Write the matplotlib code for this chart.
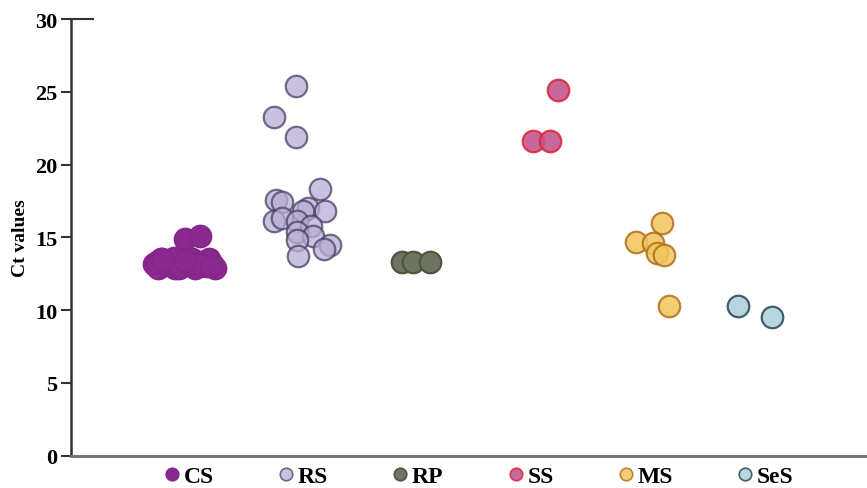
import numpy as np
import matplotlib.pyplot as plt
from matplotlib.lines import Line2D

groups = ['CS', 'RS', 'RP', 'SS', 'MS', 'SeS']

# Ct values, with horizontal offsets from the group centre
cs_vals = [13.2, 12.9, 13.5, 13.1, 13.3, 13.2, 12.9, 13.6, 13.1, 13.3, 13.2, 13.5,
           12.9, 13.2, 13.3, 13.0, 13.5, 13.2, 12.9, 13.3, 13.6, 13.1, 13.4, 12.9,
           13.2, 13.5, 13.0, 13.4, 14.9, 15.1]
cs_off = [-0.27, -0.24, -0.21, -0.18, -0.15, -0.12, -0.09, -0.06, -0.03, 0.0, 0.03,
          0.06, 0.09, 0.12, 0.15, 0.18, 0.21, 0.24, 0.26, -0.25, -0.1, 0.05, 0.2,
          -0.05, 0.1, -0.2, 0.23, 0.0, 0.0, 0.13]

rs_vals = [25.4, 23.3, 21.9, 18.3, 17.6, 17.4, 17.0, 16.8, 16.8, 16.1, 16.3, 16.1,
           15.8, 15.4, 15.1, 14.8, 14.5, 14.2, 13.7]
rs_off = [-0.03, -0.22, -0.03, 0.18, -0.2, -0.15, 0.08, 0.23, 0.03, -0.22, -0.15,
          -0.02, 0.1, -0.02, 0.12, -0.02, 0.27, 0.22, -0.01]

rp_vals = [13.3, 13.3, 13.3]
rp_off = [-0.1, 0.0, 0.15]

ss_vals = [25.1, 21.6, 21.6]
ss_off = [0.27, 0.05, 0.2]

ms_vals = [16.0, 14.7, 14.6, 13.9, 13.8, 10.3]
ms_off = [0.18, -0.05, 0.1, 0.14, 0.2, 0.24]

ses_vals = [10.3, 9.5]
ses_off = [-0.15, 0.15]

all_vals = [cs_vals, rs_vals, rp_vals, ss_vals, ms_vals, ses_vals]
all_off = [cs_off, rs_off, rp_off, ss_off, ms_off, ses_off]

fills = ['#8a2a8c', '#b7aed3', '#6f7462', '#c0588f', '#f2c55c', '#b9d6e0']
edges = ['#86268a', '#4a3f66', '#50553f', '#e0283c', '#b0701c', '#3f5f68']
alphas = [1.0, 0.75, 1.0, 0.9, 0.85, 1.0]

plt.rcParams['font.family'] = ['Liberation Serif', 'DejaVu Serif']
plt.rcParams['font.weight'] = 'bold'

fig = plt.figure(figsize=(8.67, 4.89), dpi=100)
ax = fig.add_axes([0.082, 0.066, 0.918, 0.893])

for i in range(len(groups)):
    x = i + np.array(all_off[i])
    ax.scatter(x, all_vals[i], s=240, facecolor=fills[i], edgecolor=edges[i],
               linewidth=1.6, alpha=alphas[i], zorder=3)

ax.set_xlim(-1.0, 5.98)
ax.set_ylim(0, 30)
ax.set_yticks([0, 5, 10, 15, 20, 25, 30])
ax.set_xticks([])
ax.tick_params(axis='y', labelsize=16, length=7, width=1.5, color='#333333', pad=3)
for lab in ax.get_yticklabels():
    lab.set_fontweight('bold')
ax.set_ylabel('Ct values', fontsize=14, fontweight='bold', labelpad=4)

for s in ['top', 'right']:
    ax.spines[s].set_visible(False)
ax.spines['left'].set_color('#333333')
ax.spines['left'].set_linewidth(1.8)
ax.spines['bottom'].set_color('#777777')
ax.spines['bottom'].set_linewidth(2.2)
ax.axhline(30, xmin=0, xmax=0.028, color='#333333', lw=1.5, clip_on=False)

handles = [Line2D([], [], marker='o', ls='', markersize=9, markerfacecolor=fills[i],
                  markeredgecolor=edges[i], markeredgewidth=1.2, alpha=alphas[i])
           for i in range(len(groups))]
fig.legend(handles, groups, loc='center', bbox_to_anchor=(0.550, 0.024), ncol=6,
           frameon=False, handletextpad=0.0, columnspacing=2.55, handlelength=1.0,
           prop={'size': 17, 'weight': 'bold'})

fig.savefig('out.png', dpi=100)
